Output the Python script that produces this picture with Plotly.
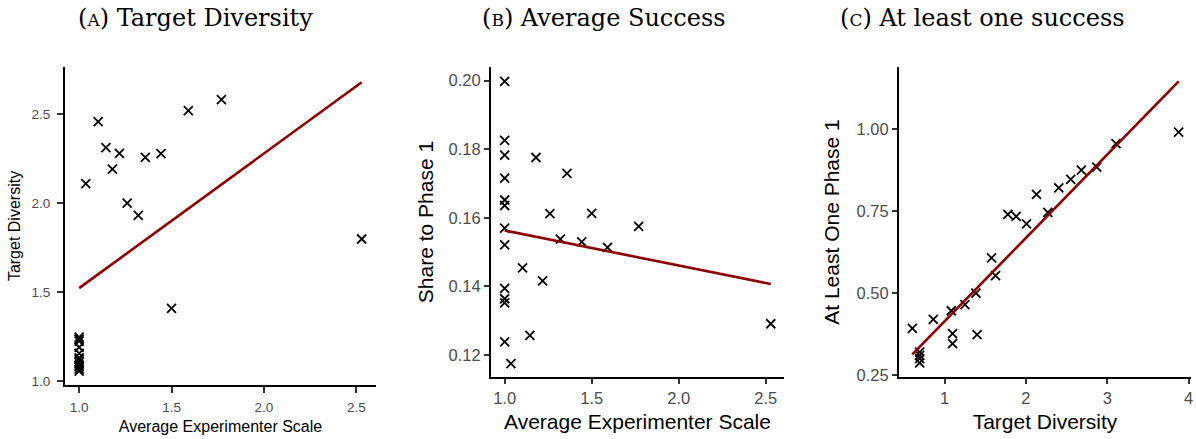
import plotly.graph_objects as go

# ---------------- data ----------------
# Panels A and B share the x variable (average experimenter scale)
exp_scale = [1.0, 1.0, 1.0, 1.0, 1.0, 1.0, 1.0, 1.0, 1.0, 1.0, 1.0, 1.0,
             1.036, 1.103, 1.145, 1.180, 1.218, 1.260, 1.320, 1.358, 1.443,
             1.500, 1.591, 1.770, 2.529]
target_div_a = [1.247, 1.235, 1.225, 1.190, 1.155, 1.130, 1.120, 1.105, 1.090,
                1.080, 1.067, 1.056,
                2.109, 2.457, 2.311, 2.191, 2.279, 2.000, 1.931, 2.257, 2.277,
                1.408, 2.519, 2.581, 1.798]
share_phase1 = [0.1998, 0.1826, 0.1783, 0.1716, 0.1652, 0.1636, 0.1570, 0.1521,
                0.1394, 0.1364, 0.1352, 0.1238,
                0.1175, 0.1454, 0.1257, 0.1776, 0.1416, 0.1612, 0.1538, 0.1730,
                0.1530, 0.1613, 0.1514, 0.1575, 0.1291]

# Panel C
target_div_c = [0.603, 0.861, 0.693, 0.693, 0.693, 0.693, 1.082, 1.098, 1.098,
                1.250, 1.385, 1.400, 1.577, 1.626, 1.778, 1.880, 2.007, 2.130,
                2.269, 2.404, 2.551, 2.682, 2.871, 3.108, 3.878]
at_least_one = [0.392, 0.420, 0.320, 0.310, 0.300, 0.287, 0.446, 0.376, 0.346,
                0.465, 0.500, 0.373, 0.607, 0.553, 0.740, 0.734, 0.711, 0.801,
                0.746, 0.821, 0.847, 0.875, 0.884, 0.956, 0.991]

# fitted regression lines (end points)
fit_a_x = [1.0, 2.529]
fit_a_y = [1.522, 2.678]
fit_b_x = [1.0, 2.529]
fit_b_y = [0.1563, 0.1407]
fit_c_x = [0.603, 3.878]
fit_c_y = [0.313, 1.146]

titles = ["(<span style='font-size:17px'>A</span>) Target Diversity",
          "(<span style='font-size:17px'>B</span>) Average Success",
          "(<span style='font-size:17px'>C</span>) At least one success"]
x_titles = ["Average Experimenter Scale", "Average Experimenter Scale", "Target Diversity"]
y_titles = ["Target Diversity", "Share to Phase 1", "At Least One Phase 1"]

# ---------------- figure ----------------
W, H = 1196, 439
fig = go.Figure()

marker = dict(symbol="x-thin", size=9, color="black",
              line=dict(color="black", width=1.8))
line_style = dict(color="#8B0000", width=2.6)

panels = [
    (exp_scale, target_div_a, fit_a_x, fit_a_y, "x", "y"),
    (exp_scale, share_phase1, fit_b_x, fit_b_y, "x2", "y2"),
    (target_div_c, at_least_one, fit_c_x, fit_c_y, "x3", "y3"),
]
for xs, ys, fx, fy, xa, ya in panels:
    fig.add_trace(go.Scatter(x=xs, y=ys, mode="markers", marker=marker,
                             xaxis=xa, yaxis=ya, showlegend=False,
                             cliponaxis=False))
    fig.add_trace(go.Scatter(x=fx, y=fy, mode="lines", line=line_style,
                             xaxis=xa, yaxis=ya, showlegend=False))

def px_x(v):
    return v / W

def px_y(v):
    return (H - v) / H

common_axis = dict(showline=True, linecolor="black", linewidth=2,
                   ticks="outside", tickwidth=2, tickcolor="#333333",
                   showgrid=False, zeroline=False, automargin=False)

big_tick = 16.5
big_title = 21
small_tick = 13.5
small_title = 16

def tf(size):
    return dict(family="Liberation Sans", color="#4D4D4D", size=size)

fig.update_layout(
    template="none",
    width=W, height=H,
    margin=dict(l=0, r=0, t=0, b=0, autoexpand=False),
    paper_bgcolor="white", plot_bgcolor="white",
    font=dict(family="Liberation Sans", color="black"),
    xaxis=dict(common_axis, domain=[px_x(65), px_x(376)], range=[0.9235, 2.6065],
               tickvals=[1.0, 1.5, 2.0, 2.5], tickformat=".1f", anchor="y",
               tickfont=tf(small_tick), ticklen=6, ticklabelstandoff=3,
               title=dict(text=x_titles[0], font=dict(size=small_title), standoff=7)),
    yaxis=dict(common_axis, domain=[px_y(385), px_y(67)], range=[0.978, 2.764],
               tickvals=[1.0, 1.5, 2.0, 2.5], tickformat=".1f", anchor="x",
               tickfont=tf(small_tick), ticklen=6, ticklabelstandoff=4,
               title=dict(text=y_titles[0], font=dict(size=small_title), standoff=7)),
    xaxis2=dict(common_axis, domain=[px_x(491), px_x(784)], range=[0.9216, 2.605],
                tickvals=[1.0, 1.5, 2.0, 2.5], tickformat=".1f", anchor="y2",
                tickfont=tf(big_tick), ticklen=5,
                title=dict(text=x_titles[1], font=dict(size=big_title), standoff=9)),
    yaxis2=dict(common_axis, domain=[px_y(377), px_y(67)], range=[0.11357, 0.2040],
                tickvals=[0.12, 0.14, 0.16, 0.18, 0.20], tickformat=".2f", anchor="x2",
                tickfont=tf(big_tick), ticklen=5,
                title=dict(text=y_titles[1], font=dict(size=big_title), standoff=9)),
    xaxis3=dict(common_axis, domain=[px_x(899), px_x(1191)], range=[0.439, 4.03],
                tickvals=[1, 2, 3, 4], tickformat="d", anchor="y3",
                tickfont=tf(big_tick), ticklen=5,
                title=dict(text=x_titles[2], font=dict(size=big_title), standoff=9)),
    yaxis3=dict(common_axis, domain=[px_y(377), px_y(67)], range=[0.2439, 1.1896],
                tickvals=[0.25, 0.50, 0.75, 1.00], tickformat=".2f", anchor="x3",
                tickfont=tf(big_tick), ticklen=5,
                title=dict(text=y_titles[2], font=dict(size=big_title), standoff=11)),
)

title_x = [195, 604, 982]
for t, cx in zip(titles, title_x):
    fig.add_annotation(text=t, x=px_x(cx), y=px_y(18), xref="paper", yref="paper",
                       showarrow=False, xanchor="center", yanchor="middle",
                       font=dict(family="DejaVu Serif", size=24, color="black"))

fig.write_html("out.html",
               config={"displayModeBar": False},
               post_script="document.body.style.margin='0';document.body.style.padding='0';")
